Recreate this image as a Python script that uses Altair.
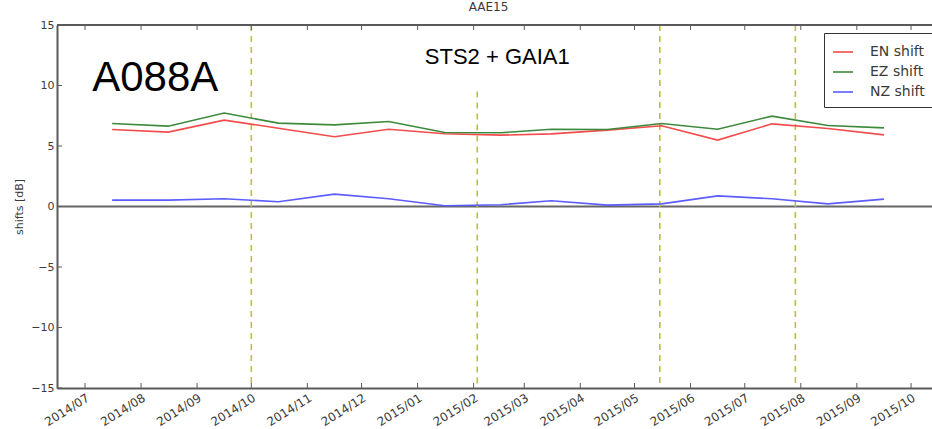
import altair as alt
import pandas as pd

# Monthly shift measurements (mid-month samples)
months = [
    "2014-07-16", "2014-08-16", "2014-09-16", "2014-10-16", "2014-11-16",
    "2014-12-16", "2015-01-16", "2015-02-16", "2015-03-16", "2015-04-16",
    "2015-05-16", "2015-06-16", "2015-07-16", "2015-08-16", "2015-09-16",
]
en_shift = [6.36, 6.15, 7.14, 6.47, 5.76, 6.39, 6.01, 5.90, 6.00, 6.31, 6.67, 5.49, 6.83, 6.45, 5.92]
ez_shift = [6.86, 6.64, 7.72, 6.89, 6.75, 7.02, 6.12, 6.09, 6.39, 6.36, 6.86, 6.39, 7.47, 6.69, 6.50]
nz_shift = [0.53, 0.53, 0.64, 0.39, 1.02, 0.64, 0.06, 0.15, 0.47, 0.11, 0.22, 0.88, 0.64, 0.22, 0.61]

series_names = ["EN shift", "EZ shift", "NZ shift"]
series_colors = ["#f24c4c", "#3d8a3d", "#5c5cff"]

# Station events (dashed verticals) and how high each one reaches
event_dates = ["2014-10-01", "2015-02-03", "2015-05-15", "2015-07-29"]
event_tops = [15, 9.5, 15, 15]

# Axis ticks
month_ticks = [(2014, m) for m in range(7, 13)] + [(2015, m) for m in range(1, 11)]
y_ticks = [-15, -10, -5, 0, 5, 10, 15]

W, H = 875, 363
AXIS_GRAY = "#5a5a5a"
TEXT_GRAY = "#3a3a3a"

x_scale = alt.Scale(domain=[
    alt.DateTime(year=2014, month=6, date=15, hours=12),
    alt.DateTime(year=2015, month=10, date=12, hours=14),
])
y_scale = alt.Scale(domain=[-15, 15], nice=False)

x_axis = alt.Axis(
    values=[alt.DateTime(year=y, month=m, date=1) for y, m in month_ticks],
    format="%Y/%m", labelAngle=-32, labelAlign="right", labelBaseline="top",
    labelPadding=4, ticks=False, grid=False, domainColor=AXIS_GRAY, domainWidth=2,
    labelFontSize=12, labelColor=TEXT_GRAY, labelFont="DejaVu Sans",
)
y_axis = alt.Axis(
    values=y_ticks, ticks=False, grid=False, labelPadding=3,
    labelExpr="datum.value < 0 ? '\u2212' + abs(datum.value) : datum.label",
    domainColor=AXIS_GRAY, domainWidth=2, labelFontSize=11, labelColor=TEXT_GRAY,
    labelFont="DejaVu Sans", titleFont="DejaVu Sans", titleFontSize=11,
    titleFontWeight="normal", titleColor=TEXT_GRAY, titlePadding=6,
)


def xenc(field):
    return alt.X(f"{field}:T", scale=x_scale, axis=x_axis, title=None)


def yenc(field):
    return alt.Y(f"{field}:Q", scale=y_scale, axis=y_axis, title="shifts [dB]")


def ts(s):
    return s + "T00:00:00"


rows = []
for name, vals in zip(series_names, [en_shift, ez_shift, nz_shift]):
    for d, v in zip(months, vals):
        rows.append({"date": ts(d), "value": v, "series": name})
shifts = pd.DataFrame(rows)

events = pd.DataFrame({
    "date": [ts(d) for d in event_dates],
    "top": event_tops,
    "bottom": [-15] * len(event_dates),
})

lines = alt.Chart(shifts).mark_line(strokeWidth=1.6).encode(
    x=xenc("date"),
    y=yenc("value"),
    color=alt.Color(
        "series:N",
        scale=alt.Scale(domain=series_names, range=series_colors),
        legend=alt.Legend(
            title=None, orient="none", legendX=767, legendY=8,
            symbolType="stroke", symbolSize=400, symbolStrokeWidth=1.6,
            labelFontSize=14, labelFont="DejaVu Sans", labelColor=TEXT_GRAY,
            labelOffset=16, rowPadding=2, padding=8,
            strokeColor="#333333", fillColor="white", cornerRadius=0,
        ),
    ),
    strokeWidth=alt.condition(alt.datum.series == "NZ shift", alt.value(2.2), alt.value(1.6)),
)

event_rules = alt.Chart(events).mark_rule(
    color="#b9c046", strokeWidth=1.6, strokeDash=[6, 5]
).encode(x=xenc("date"), y=yenc("top"), y2="bottom:Q")

zero_line = alt.Chart(pd.DataFrame({"v": [0]})).mark_rule(
    color="#666666", strokeWidth=2
).encode(y=yenc("v"))

top_spine = alt.Chart(pd.DataFrame({"v": [0]})).mark_rule(
    color=AXIS_GRAY, strokeWidth=2
).encode(x=alt.value(0), x2=alt.value(W), y=alt.value(0))

tick_df = pd.DataFrame({"t": [f"{y}-{m:02d}-01T00:00:00" for y, m in month_ticks]})
bottom_ticks = alt.Chart(tick_df).mark_rule(color=AXIS_GRAY, strokeWidth=1).encode(
    x=xenc("t"), y=alt.value(H), y2=alt.value(H - 5))
top_ticks = alt.Chart(tick_df).mark_rule(color=AXIS_GRAY, strokeWidth=1).encode(
    x=xenc("t"), y=alt.value(0), y2=alt.value(5))
left_ticks = alt.Chart(pd.DataFrame({"v": y_ticks})).mark_rule(
    color=AXIS_GRAY, strokeWidth=1
).encode(y=yenc("v"), x=alt.value(0), x2=alt.value(5))

station = alt.Chart(pd.DataFrame({
    "date": [ts("2014-07-05")], "value": [9.55], "label": ["A088A"],
})).mark_text(
    align="left", baseline="alphabetic", fontSize=42, font="Liberation Sans", color="black"
).encode(x=xenc("date"), y=yenc("value"), text="label:N")

sensor = alt.Chart(pd.DataFrame({
    "date": [ts("2015-01-05")], "value": [11.8], "label": ["STS2 + GAIA1"],
})).mark_text(
    align="left", baseline="alphabetic", fontSize=22, font="Liberation Sans", color="black"
).encode(x=xenc("date"), y=yenc("value"), text="label:N")

chart = alt.layer(
    zero_line, event_rules, lines, top_spine, bottom_ticks, top_ticks, left_ticks,
    station, sensor,
).properties(
    width=W, height=H,
    title=alt.TitleParams(
        "AAE15", fontSize=12, font="DejaVu Sans", fontWeight="normal",
        color=TEXT_GRAY, offset=5, dx=-6,
    ),
    autosize=alt.AutoSizeParams(type="none"),
    padding={"left": 57, "top": 25, "right": 0, "bottom": 41},
).configure_view(strokeWidth=0).configure_axis(
    titleColor=TEXT_GRAY
).configure(background="white")

chart.save("out.html", embed_options={"renderer": "svg", "actions": False})
